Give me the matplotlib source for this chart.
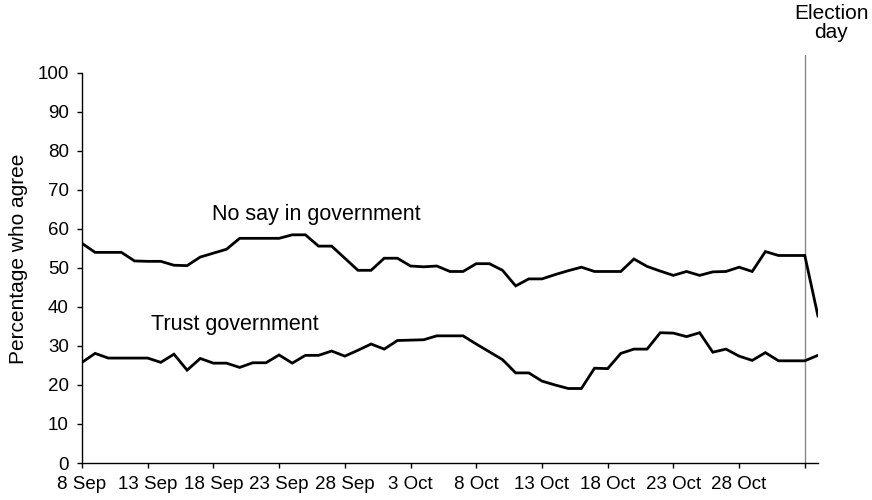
import numpy as np
import matplotlib
matplotlib.use("Agg")
import matplotlib.pyplot as plt

plt.rcParams["font.family"] = ["Liberation Sans", "DejaVu Sans"]

# daily readings, 8 Sep (day 0) to 3 Nov (day 56)
no_say = [56.3, 54.0, 54.0, 54.0, 51.8, 51.7, 51.7, 50.7, 50.6, 52.8,
          53.8, 54.8, 57.6, 57.6, 57.6, 57.6, 58.5, 58.5, 55.6, 55.6,
          52.5, 49.4, 49.4, 52.5, 52.5, 50.5, 50.3, 50.5, 49.1, 49.1,
          51.1, 51.1, 49.4, 45.4, 47.2, 47.2, 48.3, 49.3, 50.2, 49.1,
          49.1, 49.1, 52.3, 50.4, 49.2, 48.1, 49.1, 48.1, 49.0, 49.1,
          50.2, 49.1, 54.2, 53.2, 53.2, 53.2, 37.7]
trust = [25.8, 28.1, 26.9, 26.9, 26.9, 26.9, 25.8, 27.9, 23.8, 26.8,
         25.6, 25.6, 24.5, 25.7, 25.7, 27.7, 25.6, 27.6, 27.6, 28.7,
         27.4, 28.9, 30.5, 29.2, 31.4, 31.5, 31.6, 32.6, 32.6, 32.6,
         30.5, 28.5, 26.5, 23.1, 23.1, 21.0, 20.0, 19.1, 19.1, 24.3,
         24.2, 28.1, 29.2, 29.2, 33.4, 33.3, 32.4, 33.4, 28.4, 29.2,
         27.4, 26.3, 28.3, 26.2, 26.2, 26.2, 27.6]
tick_days = [0, 5, 10, 15, 20, 25, 30, 35, 40, 45, 50, 55]
tick_labels = ["8 Sep", "13 Sep", "18 Sep", "23 Sep", "28 Sep", "3 Oct",
               "8 Oct", "13 Oct", "18 Oct", "23 Oct", "28 Oct", ""]
election_day = 55

days = np.arange(len(no_say))

fig = plt.figure(figsize=(8.72, 5.0), dpi=100)
ax = fig.add_axes([0.094, 0.074, 0.844, 0.816])

ax.plot(days, no_say, color="black", lw=2.0, solid_joinstyle="miter")
ax.plot(days, trust, color="black", lw=2.0, solid_joinstyle="miter")
ax.axvline(election_day, color="#888888", lw=1.0, zorder=0)

ax.text(9.9, 63.6, "No say in government", fontsize=15.5, va="center", ha="left")
ax.text(5.25, 35.4, "Trust government", fontsize=15.5, va="center", ha="left")
fig.text(831 / 872, 1 - 4 / 500, "Election\nday", fontsize=15,
         ha="center", va="top", linespacing=1.0)

ax.set_xlim(0, 56)
ax.set_ylim(0, 104.6)
ax.set_yticks(range(0, 101, 10))
ax.set_xticks(tick_days)
ax.set_xticklabels(tick_labels)
ax.tick_params(labelsize=13.5, length=3.5, width=1, direction="out")
ax.tick_params(axis="y", pad=6)
ax.tick_params(axis="x", pad=6)
ax.set_ylabel("Percentage who agree", fontsize=15)
ax.yaxis.set_label_coords(-0.073, 0.5)

for s in ["top", "right"]:
    ax.spines[s].set_visible(False)
ax.spines["left"].set_bounds(0, 100)
ax.spines["left"].set_linewidth(1.0)
ax.spines["bottom"].set_linewidth(1.0)

fig.savefig("out.png", dpi=100)
